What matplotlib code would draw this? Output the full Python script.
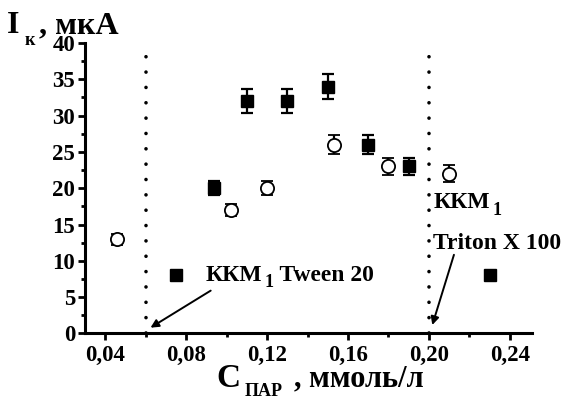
import matplotlib
matplotlib.use("Agg")
import matplotlib.pyplot as plt
from matplotlib.ticker import MultipleLocator, FuncFormatter

plt.rcParams['font.family'] = ['Liberation Serif', 'DejaVu Serif']
plt.rcParams['font.weight'] = 'bold'

# Tween 20 (filled squares)
sq_x = [0.094, 0.110, 0.130, 0.150, 0.170, 0.190]
sq_y = [20, 32, 32, 34, 26, 23]
sq_err = [1.0, 1.6, 1.6, 1.7, 1.3, 1.2]

# Triton X 100 (open circles)
ci_x = [0.046, 0.102, 0.120, 0.153, 0.180, 0.210]
ci_y = [13, 17, 20, 26, 23, 22]
ci_err = [0.75, 0.85, 1.0, 1.3, 1.2, 1.2]

# single markers beside the CMC labels
mark_x = [0.075, 0.230]
mark_y = [8, 8]

# critical micelle concentrations
cmc_x = [0.06, 0.20]

fig = plt.figure(figsize=(5.88, 3.97), dpi=100)
ax = fig.add_axes([0.1446, 0.16, 0.7602, 0.7317])

ax.errorbar(sq_x, sq_y, yerr=sq_err, fmt='s', ms=8.5, mfc='k', mec='k',
            ecolor='k', elinewidth=1.6, capsize=4.5, capthick=1.6, zorder=3)
ax.errorbar(ci_x, ci_y, yerr=ci_err, fmt='o', ms=9.5, mfc='white', mec='k',
            mew=1.3, ecolor='k', elinewidth=1.6, capsize=4.5, capthick=1.6, zorder=3)
ax.plot(mark_x, mark_y, 's', ms=8.5, color='k', clip_on=False, zorder=3)

for cx in cmc_x:
    ax.plot([cx, cx], [0, 38.3], color='k', lw=2.6,
            linestyle=(0, (0.01, 4.24)), dash_capstyle='round', zorder=2)

ax.set_xlim(0.030, 0.251)
ax.set_ylim(0, 40)

ax.xaxis.set_major_locator(MultipleLocator(0.04))
ax.xaxis.set_minor_locator(MultipleLocator(0.02))
ax.yaxis.set_major_locator(MultipleLocator(5))
ax.yaxis.set_minor_locator(MultipleLocator(2.5))
ax.xaxis.set_major_formatter(FuncFormatter(lambda v, p: ("%.2f" % v).replace('.', ',')))
ax.yaxis.set_major_formatter(FuncFormatter(lambda v, p: "%d" % v))

for s in ['top', 'right']:
    ax.spines[s].set_visible(False)
for s in ['left', 'bottom']:
    ax.spines[s].set_linewidth(2.2)

ax.tick_params(which='major', direction='out', length=5, width=2, labelsize=16.5)
ax.tick_params(axis='x', which='major', pad=3)
ax.tick_params(axis='y', which='major', pad=2)
ax.tick_params(which='minor', direction='out', length=3, width=2)
for lab in ax.get_xticklabels() + ax.get_yticklabels():
    lab.set_fontweight('bold')

# annotations
t1 = ax.text(0.0895, 8, "ККМ", fontsize=17, fontweight='bold', va='center', ha='left')
t1b = ax.annotate("1", xy=(1.03, 0), xycoords=t1, xytext=(1, -1),
                  textcoords='offset points', fontsize=13, fontweight='bold',
                  va='baseline', ha='left')
ax.annotate(" Tween 20", xy=(1.0, 0), xycoords=(t1b, t1), fontsize=17,
            fontweight='bold', va='bottom', ha='left')
ax.annotate("", xy=(0.0612, 0.6), xytext=(0.0933, 6.1),
            arrowprops=dict(arrowstyle='-|>', lw=1.4, color='k', mutation_scale=12))

t2 = ax.text(0.2022, 18.0, "ККМ", fontsize=17, fontweight='bold', va='center', ha='left')
ax.annotate("1", xy=(1.03, 0), xycoords=t2, xytext=(1, -1),
            textcoords='offset points', fontsize=13, fontweight='bold',
            va='baseline', ha='left')
ax.text(0.2022, 12.4, "Triton X 100", fontsize=17, fontweight='bold', va='center',
        ha='left', clip_on=False)
ax.annotate("", xy=(0.2013, 0.8), xytext=(0.2128, 11.2),
            arrowprops=dict(arrowstyle='-|>', lw=1.4, color='k', mutation_scale=12))

# axis titles
fig.text(0.012, 0.917, "I", fontsize=23, fontweight='bold', ha='left', va='baseline')
fig.text(0.042, 0.887, "к", fontsize=13, fontweight='bold', ha='left', va='baseline')
fig.text(0.067, 0.917, ", мкА", fontsize=23, fontweight='bold', ha='left', va='baseline')

fig.text(0.368, 0.026, "C", fontsize=24, fontweight='bold', ha='left', va='baseline')
fig.text(0.416, 0.003, "ПАР", fontsize=13, fontweight='bold', ha='left', va='baseline')
fig.text(0.500, 0.026, ", ммоль/л", fontsize=22, fontweight='bold', ha='left', va='baseline')

fig.savefig("out.png", dpi=100)
